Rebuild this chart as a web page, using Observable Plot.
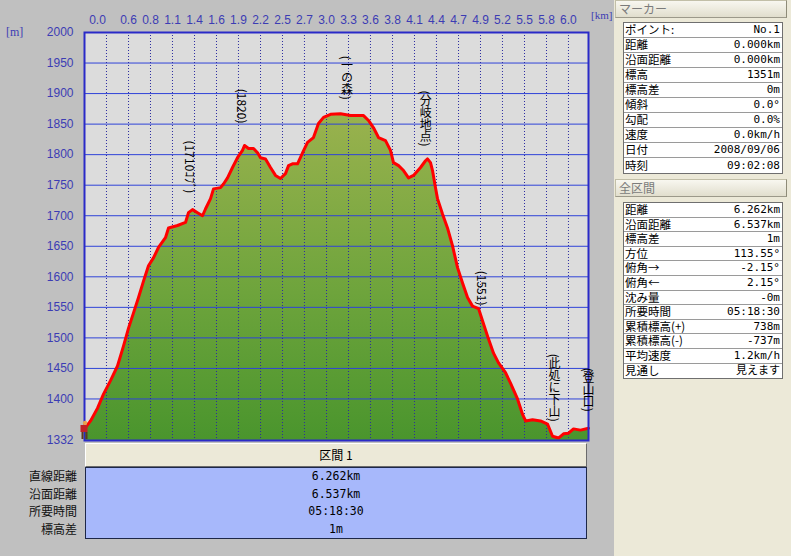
<!DOCTYPE html>
<html><head><meta charset="utf-8">
<script src="https://cdn.jsdelivr.net/npm/d3@7"></script>
<script src="https://cdn.jsdelivr.net/npm/@observablehq/plot@0.6"></script>
<style>
html,body{margin:0;padding:0;}
body{width:791px;height:556px;background:#c0c0c0;position:relative;overflow:hidden;font-family:"Noto Sans CJK JP",sans-serif;}
#chart{position:absolute;left:0;top:0;}
.unit{position:absolute;color:#3c3cb4;font:12px "Liberation Serif",serif;}
#panel{position:absolute;left:614px;top:0;width:177px;height:556px;background:#ece9d8;}
.hdr{position:absolute;left:1px;width:172px;height:18px;background:linear-gradient(#f8f7f0,#e1decd);border:1px solid #c2bfa8;border-right-color:#8e8b78;border-bottom-color:#9c998a;color:#7b7b7b;font-size:12px;line-height:16px;padding-left:3px;box-sizing:border-box;}
.tbl{position:absolute;left:9px;width:160px;background:#fff;border:1px solid #6f6f6f;box-sizing:border-box;}
.row{display:flex;justify-content:space-between;align-items:center;border-bottom:1px solid #9a9a9a;box-sizing:border-box;padding:0 2px 0 1px;color:#000;white-space:nowrap;}
.row:last-child{border-bottom:none;}
.row span{display:block;}
.val{font-family:"DejaVu Sans Mono","Noto Sans CJK JP",monospace;}
#secHead{position:absolute;left:85px;top:443px;width:502px;height:24px;background:#ece9d8;border:1px solid #fff;border-right-color:#6b6b6b;border-bottom-color:#6b6b6b;box-sizing:border-box;text-align:center;font-size:12px;line-height:21px;color:#000;}
#secBody{position:absolute;left:85px;top:467px;width:502px;height:72px;background:#a7b8fb;border:1px solid #1d2748;box-sizing:border-box;}
.srow{height:17.5px;line-height:17.5px;text-align:center;font-family:"DejaVu Sans Mono","Noto Sans CJK JP",monospace;font-size:11.5px;color:#000;}
#secLabels{position:absolute;left:0;top:467px;width:77px;}
.slab{height:17.5px;line-height:17.5px;text-align:right;font-size:12px;color:#111;}
</style></head><body>
<div id="chart"></div>
<div class="unit" style="left:6px;top:25px;">[m]</div>
<div class="unit" style="left:591px;top:9px;font-size:11px;">[km]</div>
<div id="panel"></div>
<div id="secHead"></div>
<div id="secBody"></div>
<div id="secLabels"></div>
<script>
// Elevation profile (distance km, elevation m)
const distanceKm = [0.000,0.075,0.162,0.236,0.323,0.410,0.485,0.547,0.609,0.671,0.733,0.795,0.857,0.919,1.006,1.044,1.156,1.255,1.292,1.342,1.404,1.466,1.503,1.566,1.603,1.690,1.727,1.777,1.839,1.901,1.963,1.988,2.038,2.100,2.150,2.187,2.249,2.311,2.373,2.435,2.497,2.535,2.584,2.647,2.709,2.771,2.845,2.907,2.970,3.057,3.181,3.305,3.467,3.529,3.591,3.653,3.740,3.802,3.839,3.902,3.964,4.026,4.088,4.175,4.237,4.262,4.299,4.324,4.361,4.386,4.448,4.510,4.572,4.635,4.697,4.759,4.821,4.896,4.945,5.020,5.082,5.144,5.231,5.293,5.380,5.442,5.480,5.567,5.666,5.753,5.815,5.889,5.952,6.014,6.076,6.163,6.262];
const elevationM = [1351,1364,1385,1408,1430,1454,1487,1516,1541,1566,1593,1618,1631,1648,1664,1680,1684,1689,1705,1710,1705,1700,1711,1728,1744,1746,1752,1762,1779,1795,1807,1815,1810,1810,1803,1795,1793,1779,1766,1761,1769,1782,1785,1785,1803,1820,1828,1851,1861,1866,1867,1864,1864,1856,1844,1828,1823,1807,1787,1782,1774,1762,1766,1779,1790,1793,1787,1774,1746,1728,1703,1680,1651,1615,1590,1566,1552,1548,1528,1498,1475,1459,1443,1426,1400,1375,1364,1366,1364,1359,1339,1336,1343,1344,1351,1349,1352];

// Axes
const xDomain = [0, 6.262];
const yDomain = [1332, 2000];
const xTicks = [0,0.273,0.547,0.820,1.093,1.367,1.640,1.913,2.187,2.460,2.733,3.007,3.280,3.553,3.827,4.100,4.373,4.647,4.920,5.193,5.467,5.740,6.013];
const xTickLabels = ["0.0","","0.6","0.8","1.1","1.4","1.6","1.9","2.2","2.5","2.7","3.0","3.3","3.6","3.8","4.1","4.4","4.7","4.9","5.2","5.5","5.8","6.0"];
const yTicks = [1332,1400,1450,1500,1550,1600,1650,1700,1750,1800,1850,1900,1950,2000];
const yGrid = [1400,1450,1500,1550,1600,1650,1700,1750,1800,1850,1900,1950];

// Waypoint labels
const waypointNames = ["(1710ｺﾌﾞ)","(1820)","(一の森)","(分岐地点)","(1551)","(此処に下山)","(登山口)"];
const waypointKm = [1.32,1.96,3.26,4.24,4.95,5.84,6.262];
const waypointLabelM = [1823,1908,1962,1905,1610,1474,1451];

// Side panel tables
const markerTitle = "マーカー";
const markerLabels = ["ポイント:","距離","沿面距離","標高","標高差","傾斜","勾配","速度","日付","時刻"];
const markerValues = ["No.1","0.000km","0.000km","1351m","0m","0.0°","0.0%","0.0km/h","2008/09/06","09:02:08"];
const totalTitle = "全区間";
const totalLabels = ["距離","沿面距離","標高差","方位","俯角→","俯角←","沈み量","所要時間","累積標高(+)","累積標高(-)","平均速度","見通し"];
const totalValues = ["6.262km","6.537km","1m","113.55° ","-2.15° ","2.15° ","-0m","05:18:30","738m","-737m","1.2km/h","見えます"];

// Section table
const sectionTitle = "区間 1";
const sectionLabels = ["直線距離","沿面距離","所要時間","標高差"];
const sectionValues = ["6.262km","6.537km","05:18:30","1m"];

const profile = distanceKm.map((d, i) => ({km: d, m: elevationM[i]}));
const waypoints = waypointNames.map((n, i) => ({name: n, km: waypointKm[i], m: waypointLabelM[i]}));
const labelMap = new Map(xTicks.map((t, i) => [t, xTickLabels[i]]));
const axisColor = "#3c3cb4";

const plot = Plot.plot({
  width: 612, height: 448,
  marginLeft: 84, marginRight: 24, marginTop: 32, marginBottom: 8,
  style: {background: "transparent", fontFamily: "'Liberation Sans', Arial, sans-serif", fontSize: "12px", color: axisColor},
  x: {domain: xDomain, axis: null},
  y: {domain: yDomain, axis: null},
  marks: [
    Plot.frame({fill: "#dcdcdc", stroke: null}),
    Plot.areaY(profile, {x: "km", y1: () => yDomain[0], y2: "m", fill: "url(#elevGrad)"}),
    Plot.ruleY(yGrid, {stroke: "#2f43d8", strokeWidth: 1}),
    Plot.ruleX(xTicks.slice(1), {stroke: "#2c2ca0", strokeWidth: 1, strokeDasharray: "1,2"}),
    Plot.line(profile, {x: "km", y: "m", stroke: "#ff0000", strokeWidth: 3, strokeLinejoin: "round"}),
    Plot.frame({stroke: "#2a2ac8", strokeWidth: 2}),
    Plot.axisY(yTicks, {tickSize: 0, tickPadding: 11, fill: axisColor, label: null, tickFormat: d => String(d)}),
    Plot.axisX(xTicks.slice(0, 1), {anchor: "top", tickSize: 0, tickPadding: 9, dx: 13, label: null, tickFormat: d => labelMap.get(d), fill: axisColor}),
    Plot.axisX(xTicks.slice(1), {anchor: "top", tickSize: 0, tickPadding: 9, label: null, tickFormat: d => labelMap.get(d), fill: axisColor}),
    Plot.text(waypoints, {x: "km", y: "m", text: "name", textAnchor: "start", lineAnchor: "bottom", fontSize: 12, fill: "#000", fontFamily: "'Noto Sans CJK JP', sans-serif"})
  ]
});
document.getElementById("chart").appendChild(plot);

const svg = d3.select(plot);
const defs = svg.insert("defs", ":first-child");
const grad = defs.append("linearGradient").attr("id", "elevGrad")
  .attr("gradientUnits", "userSpaceOnUse").attr("x1", 0).attr("x2", 0)
  .attr("y1", plot.scale("y").apply(yDomain[1] - 130)).attr("y2", plot.scale("y").apply(yDomain[0]));
grad.append("stop").attr("offset", 0).attr("stop-color", "#9ab24e");
grad.append("stop").attr("offset", 0.55).attr("stop-color", "#6ea43c");
grad.append("stop").attr("offset", 1).attr("stop-color", "#4a952d");

svg.selectAll('g[aria-label="text"] text')
  .style("writing-mode", "vertical-rl")
  .style("text-orientation", "mixed");

// hiker icon at the start point
const hx = plot.scale("x").apply(distanceKm[0]);
const hy = plot.scale("y").apply(yDomain[0]);
const hiker = svg.append("g").attr("transform", `translate(${hx},${hy})`);
hiker.append("circle").attr("cx", 1).attr("cy", -17).attr("r", 2.2).attr("fill", "#e8a050");
hiker.append("rect").attr("x", -3.5).attr("y", -15).attr("width", 7).attr("height", 7).attr("fill", "#c02028");
hiker.append("rect").attr("x", -2.5).attr("y", -8).attr("width", 2).attr("height", 7).attr("fill", "#5a3a20");
hiker.append("rect").attr("x", 1.5).attr("y", -8).attr("width", 2).attr("height", 7).attr("fill", "#5a3a20");

// side panel
const panel = d3.select("#panel");
function addSection(title, top, labels, values, tableTop, rowH, fs, lh) {
  panel.append("div").attr("class", "hdr").style("top", top + "px").text(title);
  const t = panel.append("div").attr("class", "tbl").style("top", tableTop + "px");
  labels.forEach((l, i) => {
    const r = t.append("div").attr("class", "row")
      .style("height", rowH + "px").style("font-size", fs + "px").style("line-height", lh + "px");
    r.append("span").text(l);
    r.append("span").attr("class", "val").style("font-size", (fs - 0.5) + "px").text(values[i]);
  });
}
addSection(markerTitle, 0, markerLabels, markerValues, 22, 15, 11.5, 13.6);
addSection(totalTitle, 179, totalLabels, totalValues, 202, 14.6, 11.5, 13.6);

// section table
d3.select("#secHead").text(sectionTitle);
const sb = d3.select("#secBody");
sectionValues.forEach(v => sb.append("div").attr("class", "srow").text(v));
const sl = d3.select("#secLabels");
sectionLabels.forEach(l => sl.append("div").attr("class", "slab").text(l));
</script>
</body></html>
